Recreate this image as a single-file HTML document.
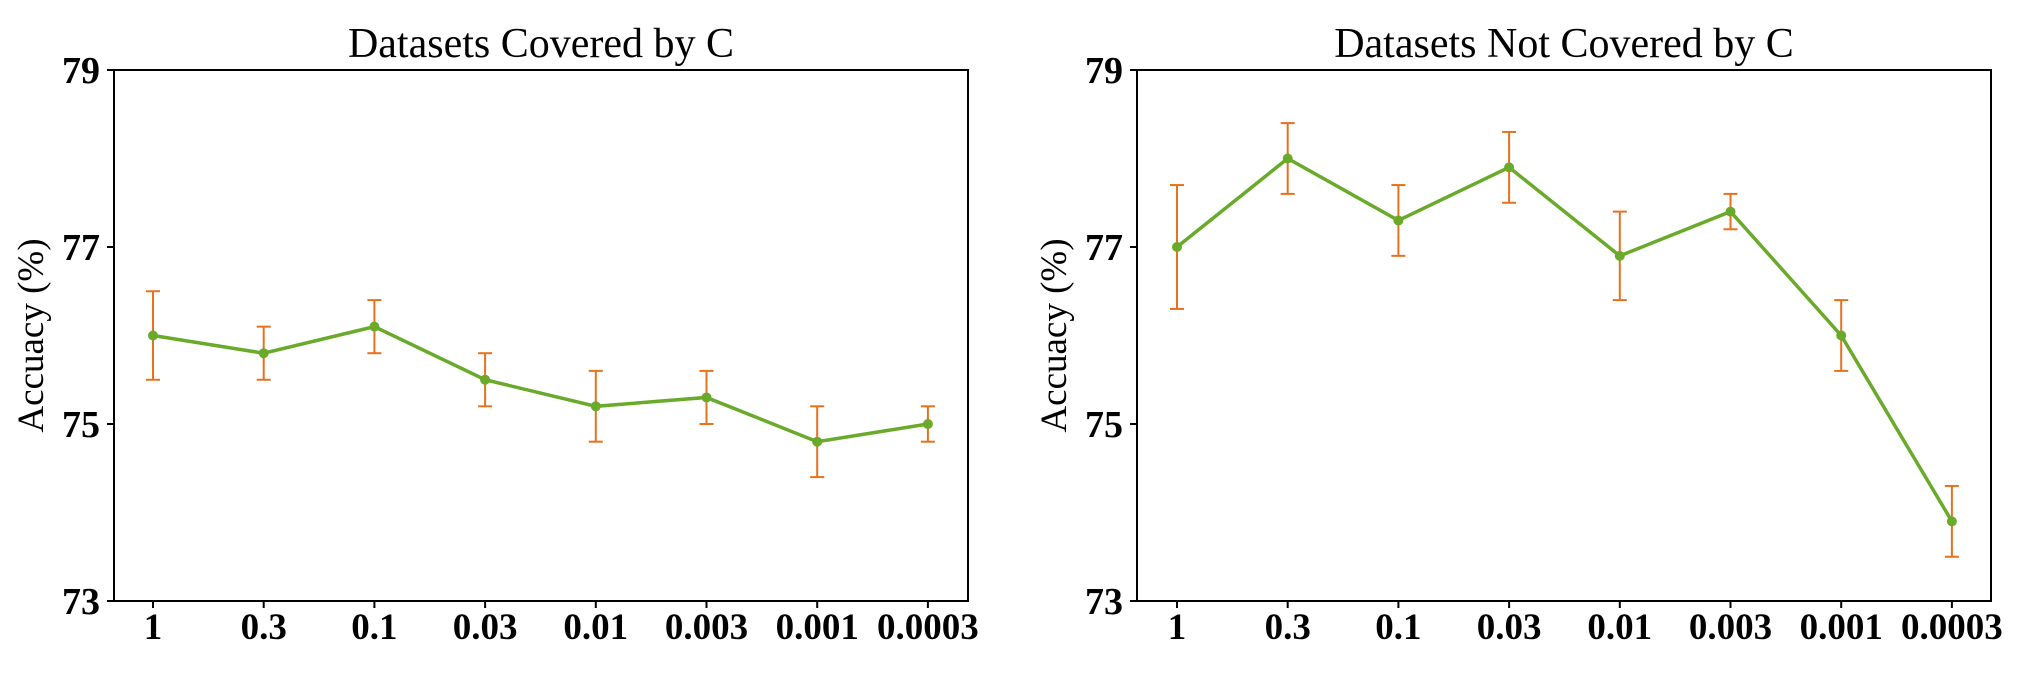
<!DOCTYPE html>
<html><head><meta charset="utf-8"><style>
body{margin:0;background:#fff}
svg text{font-family:"Liberation Serif",serif}
</style></head><body>
<svg id="c" width="2029" height="668" xmlns="http://www.w3.org/2000/svg"></svg>
<script>
const categories=["1","0.3","0.1","0.03","0.01","0.003","0.001","0.0003"];
const yTicks=[73,75,77,79];
const coveredMean=[76.0,75.8,76.1,75.5,75.2,75.3,74.8,75.0];
const coveredErr=[0.5,0.3,0.3,0.3,0.4,0.3,0.4,0.2];
const notCoveredMean=[77.0,78.0,77.3,77.9,76.9,77.4,76.0,73.9];
const notCoveredErr=[0.7,0.4,0.4,0.4,0.5,0.2,0.4,0.4];
const titles=["Datasets Covered by C","Datasets Not Covered by C"];
const NS="http://www.w3.org/2000/svg";
const svg=document.getElementById('c');
function mk(tag,attrs,parent){const e=document.createElementNS(NS,tag);for(const k in attrs)e.setAttribute(k,attrs[k]);(parent||svg).appendChild(e);return e;}
const panels=[{x0:114,x1:968,t0:153,mean:coveredMean,err:coveredErr,title:titles[0],id:'covered'},
{x0:1137,x1:1991,t0:1177,mean:notCoveredMean,err:notCoveredErr,title:titles[1],id:'not-covered'}];
const yTop=70,yBot=601,yMin=73,yMax=79;
function yS(v){return yBot-(v-yMin)/(yMax-yMin)*(yBot-yTop);}
panels.forEach(p=>{
  const g=mk('g',{});
  
  
  const step=110.7;
  function xS(i){return p.t0+i*step;}
  const box=mk('rect',{x:p.x0,y:yTop,width:p.x1-p.x0,height:yBot-yTop,fill:'none',stroke:'#000','stroke-width':2},g);
  
  
  const t=mk('text',{x:(p.x0+p.x1)/2,y:57,'text-anchor':'middle','font-size':42},g);
  t.textContent=p.title;
  
  
  const yl=mk('text',{x:0,y:0,'text-anchor':'middle','font-size':37,transform:`translate(${p.x0-71},${(yTop+yBot)/2}) rotate(-90)`},g);
  yl.textContent='Accuacy (%)';
  
  
  yTicks.forEach(v=>{
    mk('line',{x1:p.x0-7,x2:p.x0,y1:yS(v),y2:yS(v),stroke:'#000','stroke-width':2},g);
    const tl=mk('text',{x:p.x0-14,y:yS(v)+13,'text-anchor':'end','font-size':38,'font-weight':'bold'},g);
    tl.textContent=v;
    
    
  });
  categories.forEach((c,i)=>{
    mk('line',{x1:xS(i),x2:xS(i),y1:yBot,y2:yBot+7,stroke:'#000','stroke-width':2},g);
    const xl=mk('text',{x:xS(i),y:yBot+38,'text-anchor':'middle','font-size':37,'font-weight':'bold'},g);
    xl.textContent=c;
    
    
  });
  p.mean.forEach((m,i)=>{
    const eb=mk('g',{stroke:'#e8711e','stroke-width':2},g);
    
    
    const a=yS(m+p.err[i]),b=yS(m-p.err[i]);
    mk('line',{x1:xS(i),x2:xS(i),y1:a,y2:b},eb);
    mk('line',{x1:xS(i)-7,x2:xS(i)+7,y1:a,y2:a},eb);
    mk('line',{x1:xS(i)-7,x2:xS(i)+7,y1:b,y2:b},eb);
  });
  const pl=mk('polyline',{points:p.mean.map((m,i)=>xS(i)+','+yS(m)).join(' '),fill:'none',stroke:'#6aaa2a','stroke-width':3.5},g);
  
  
  p.mean.forEach((m,i)=>{
    const pt=mk('circle',{cx:xS(i),cy:yS(m),r:5,fill:'#6aaa2a'},g);
    
    
  });
});
</script>
</body></html>
